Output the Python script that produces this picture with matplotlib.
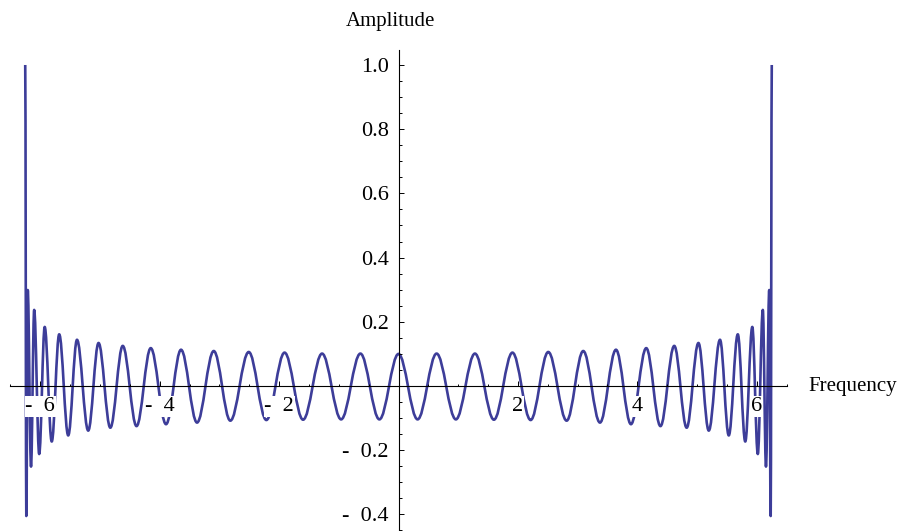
"""
Amplitude vs frequency - chirped ripple with edge spikes
"""
import matplotlib
matplotlib.use('Agg')
import matplotlib.pyplot as plt
from matplotlib.path import Path
from matplotlib.patches import PathPatch
from matplotlib.ticker import FixedLocator, MultipleLocator

plt.rcParams['font.family'] = ['Liberation Serif', 'DejaVu Serif']

# ============================================================================
# DATA - extrema of the curve (right half, from 0 out)
# the curve is symmetric, so the left half is the mirror image
# ============================================================================
freq_right = [0.000, 0.320, 0.638, 0.961, 1.280, 1.598, 1.908, 2.213, 2.508,
              2.816, 3.094, 3.374, 3.642, 3.893, 4.149, 4.387, 4.618, 4.826,
              5.023, 5.196, 5.384, 5.531, 5.682, 5.807, 5.925, 6.017, 6.101,
              6.154, 6.209, 6.233, 6.251]
amp_right = [0.100, -0.104, 0.101, -0.104, 0.101, -0.105, 0.104, -0.106, 0.106,
             -0.108, 0.109, -0.114, 0.113, -0.119, 0.118, -0.125, 0.125, -0.130,
             0.134, -0.139, 0.144, -0.154, 0.161, -0.173, 0.184, -0.212, 0.237,
             -0.251, 0.299, -0.405, 1.000]

x_major = [-6, -4, -2, 2, 4, 6]
x_labels = ['-  6', '-  4', '-  2', '2', '4', '6']
y_major = [-0.4, -0.2, 0.2, 0.4, 0.6, 0.8, 1.0]
y_labels = ['-  0.4', '-  0.2', '0.2', '0.4', '0.6', '0.8', '1.0']

freq = [-f for f in freq_right[:0:-1]] + freq_right
amp = amp_right[:0:-1] + amp_right

LINE_COLOR = '#3d3d99'

# ============================================================================
# FIGURE
# ============================================================================
fig = plt.figure(figsize=(9.01, 5.31), dpi=100)
ax = fig.add_axes([10 / 901, 0, 777 / 901, 481 / 531])
ax.set_xlim(-6.506, 6.506)
ax.set_ylim(-0.4517, 1.0467)
ax.set_axisbelow(False)

# smooth half-waves between neighbouring extrema (cubic bezier segments)
k = 0.364
verts = [(freq[0], amp[0])]
codes = [Path.MOVETO]
for i in range(1, len(freq)):
    x0, y0 = freq[i - 1], amp[i - 1]
    x1, y1 = freq[i], amp[i]
    w = x1 - x0
    verts += [(x0 + k * w, y0), (x1 - k * w, y1), (x1, y1)]
    codes += [Path.CURVE4] * 3
curve = PathPatch(Path(verts, codes), fill=False, edgecolor=LINE_COLOR,
                  linewidth=1.9, joinstyle='round', capstyle='butt', zorder=1)
ax.add_patch(curve)

# axes through the origin
for side in ['top', 'right']:
    ax.spines[side].set_visible(False)
ax.spines['left'].set_position(('data', 0))
ax.spines['bottom'].set_position(('data', 0))
for side in ['left', 'bottom']:
    ax.spines[side].set_linewidth(0.8)
    ax.spines[side].set_color('black')

ax.xaxis.set_major_locator(FixedLocator(x_major))
ax.xaxis.set_minor_locator(MultipleLocator(0.5))
ax.yaxis.set_major_locator(FixedLocator(y_major))
ax.yaxis.set_minor_locator(MultipleLocator(0.05))
ax.set_xticklabels(x_labels)
ax.set_yticklabels(y_labels)

ax.tick_params(which='both', direction='in', width=0.7, colors='black')
ax.tick_params(which='major', length=3.6, labelsize=16)
ax.tick_params(which='minor', length=1.8)
ax.tick_params(axis='x', which='major', pad=8)
ax.tick_params(axis='y', which='major', pad=7)

for lab in ax.get_xticklabels() + ax.get_yticklabels():
    lab.set_bbox(dict(facecolor='white', edgecolor='none', pad=0.5))

fig.text(390.7 / 901, 1 - 21.7 / 531, 'Amplitude', fontsize=15,
         ha='center', va='center')
fig.text(808 / 901, 1 - 386 / 531, 'Frequency', fontsize=15,
         ha='left', va='center')

plt.savefig('out.png', dpi=100, facecolor='white')
plt.close()
